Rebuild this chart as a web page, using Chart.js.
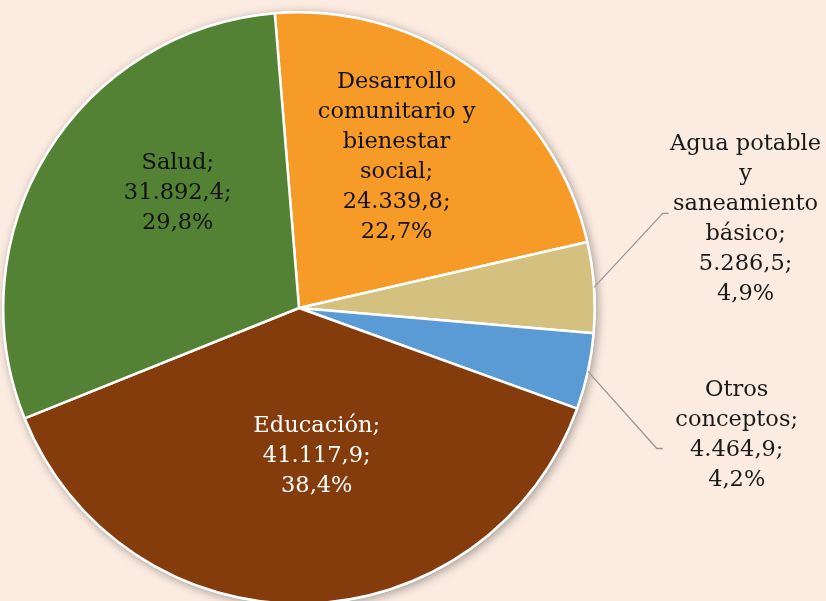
<!DOCTYPE html>
<html>
<head>
<meta charset="utf-8">
<script src="https://cdn.jsdelivr.net/npm/chart.js@4.4.1/dist/chart.umd.min.js"></script>
<style>
  html, body { margin: 0; padding: 0; background: #fbebe1; overflow: hidden; }
  #wrap { position: relative; width: 826px; height: 620px; }
</style>
</head>
<body>
<div id="wrap"><canvas id="pieChart"></canvas></div>
<script>
// data
const categories = ['Desarrollo comunitario y bienestar social', 'Agua potable y saneamiento básico', 'Otros conceptos', 'Educación', 'Salud'];
const values = [24339.8, 5286.5, 4464.9, 41117.9, 31892.4];
const percentLabels = ['22,7%', '4,9%', '4,2%', '38,4%', '29,8%'];
const valueLabels = ['24.339,8', '5.286,5', '4.464,9', '41.117,9', '31.892,4'];
const labelLines = [
  ['Desarrollo', 'comunitario y', 'bienestar', 'social;'],
  ['Agua potable', 'y', 'saneamiento', 'básico;'],
  ['Otros', 'conceptos;'],
  ['Educación;'],
  ['Salud;']
];

const colors = ['#f79b28', '#d4c07f', '#5b9bd5', '#843c0c', '#548235'];
const textColors = ['#111', '#1a1a1a', '#1a1a1a', '#fff', '#111'];

// label placement, relative to pie centre in units of radius (dx, dy); outer = with leader line
const placement = [
  { dx: 0.33, dy: -0.51 },
  { dx: 1.51, dy: -0.30, outer: true, elbow: [1.23, -0.32] },
  { dx: 1.48, dy: 0.43, outer: true, elbow: [1.21, 0.475] },
  { dx: 0.06, dy: 0.50 },
  { dx: -0.41, dy: -0.39 }
];

const LINE_H = 30;
const FONT = '22.5px "DejaVu Serif", Georgia, serif';

const pieShadow = {
  id: 'pieShadow',
  beforeDatasetsDraw(chart) {
    const arc = chart.getDatasetMeta(0).data[0];
    if (!arc) return;
    const ctx = chart.ctx;
    ctx.save();
    ctx.shadowColor = 'rgba(0,0,0,0.35)';
    ctx.shadowBlur = 10;
    ctx.shadowOffsetX = 2;
    ctx.shadowOffsetY = 2;
    ctx.fillStyle = '#ffffff';
    ctx.beginPath();
    ctx.arc(arc.x, arc.y, arc.outerRadius + 1, 0, Math.PI * 2);
    ctx.fill();
    ctx.restore();
  }
};

const pieLabels = {
  id: 'pieLabels',
  afterDatasetsDraw(chart) {
    const ctx = chart.ctx;
    const arcs = chart.getDatasetMeta(0).data;
    ctx.save();
    ctx.font = FONT;
    ctx.textAlign = 'center';
    ctx.textBaseline = 'middle';
    arcs.forEach((arc, i) => {
      const r = arc.outerRadius;
      const p = placement[i];
      const cx = arc.x + p.dx * r;
      const cy = arc.y + p.dy * r;
      const lines = labelLines[i].concat([valueLabels[i] + ';', percentLabels[i]]);

      if (p.outer) {
        const mid = (arc.startAngle + arc.endAngle) / 2;
        const sx = arc.x + Math.cos(mid) * r;
        const sy = arc.y + Math.sin(mid) * r;
        const ex = arc.x + p.elbow[0] * r;
        const ey = arc.y + p.elbow[1] * r;
        ctx.strokeStyle = '#999999';
        ctx.lineWidth = 1.3;
        ctx.beginPath();
        ctx.moveTo(sx, sy);
        ctx.lineTo(ex, ey);
        ctx.lineTo(ex + 6, ey);
        ctx.stroke();
      }

      ctx.fillStyle = textColors[i];
      const top = cy - (lines.length - 1) * LINE_H / 2;
      lines.forEach((t, k) => ctx.fillText(t, cx, top + k * LINE_H));
    });
    ctx.restore();
  }
};

const canvas = document.getElementById('pieChart');
new Chart(canvas.getContext('2d'), {
  type: 'pie',
  data: {
    labels: categories,
    datasets: [{
      data: values,
      backgroundColor: colors,
      borderColor: '#ffffff',
      borderWidth: 2.5
    }]
  },
  options: {
    responsive: true,
    maintainAspectRatio: false,
    animation: false,
    rotation: -4.7,
    layout: { padding: { left: 2, right: 230, top: 11, bottom: 15 } },
    plugins: {
      legend: { display: false },
      tooltip: { enabled: false }
    }
  },
  plugins: [pieShadow, pieLabels]
});
</script>
</body>
</html>
